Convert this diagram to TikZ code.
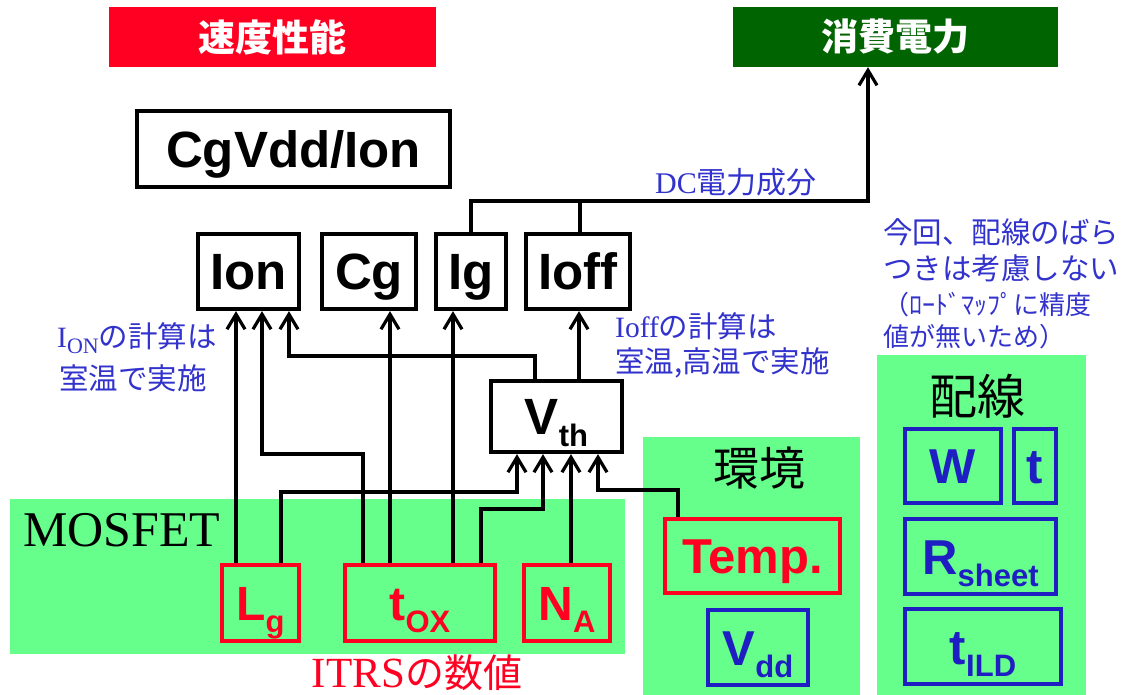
\documentclass[tikz,border=0pt]{standalone}
\usepackage{fontspec}
\setmainfont{Liberation Serif}
\setsansfont{Liberation Sans}
\newfontfamily\cjk{Noto Sans CJK JP}
\usetikzlibrary{arrows.meta}
\newcommand\fsz[1]{\fontsize{#1}{#1}\selectfont}
\newcommand\dsub[1]{\raisebox{-12pt}{\fsz{31}#1}}
\definecolor{lgreen}{RGB}{102,255,140}
\definecolor{myred}{RGB}{255,0,35}
\definecolor{dgreen}{RGB}{0,100,0}
\definecolor{tblue}{RGB}{50,50,205}
\definecolor{bblue}{RGB}{30,30,195}
\begin{document}
\begin{tikzpicture}[x=1pt,y=-1pt,
  conn/.style={line width=3.2pt, draw=black},
  arr/.style={conn, -{Straight Barb[length=15pt,width=18pt]}},
  blk/.style={draw=black, line width=3.8pt, fill=white, inner sep=0pt,
    font=\sffamily\bfseries\fsz{51}, text height=36.5pt, text depth=0pt},
  redb/.style={draw=myred, line width=4pt, inner sep=0pt, text=myred,
    font=\sffamily\bfseries\fsz{48}, text height=34.4pt, text depth=0pt},
  tempb/.style={draw=myred, line width=4pt, inner sep=0pt, text=myred,
    font=\sffamily\bfseries\fsz{49}, text height=35pt, text depth=0pt},
  blub/.style={draw=bblue, line width=4pt, inner sep=0pt, text=bblue,
    font=\sffamily\bfseries\fsz{49}, text height=35pt, text depth=0pt},
  zone/.style={fill=lgreen, draw=none},
  toplbl/.style={inner sep=0pt, text=white, font=\cjk\bfseries\fsz{37},
    minimum width=327pt, minimum height=60pt},
  blutxt/.style={text=tblue, inner sep=0pt, anchor=west, font=\cjk\fsz{29.5}},
]
\useasboundingbox (0,0) rectangle (1122,695);
\fill[white] (0,0) rectangle (1122,695);

% zones
\fill[zone] (10,499) rectangle (625,654);
\fill[zone] (643,437) rectangle (860,695);
\fill[zone] (877,355) rectangle (1086,695);

% top labels
\node[toplbl, fill=myred] (spd) at (272.5,37) {速度性能};
\node[toplbl, fill=dgreen, minimum width=325pt] (pw) at (895.5,37) {消費電力};

% black boxes
\node[blk, minimum width=313.5pt, minimum height=76.5pt] (cgv) at (293.5,149) {CgVdd/Ion};
\node[blk, minimum width=101.5pt, minimum height=75.5pt] (ion) at (248.5,271.5) {Ion};
\node[blk, minimum width=94.5pt, minimum height=75.5pt] (cg) at (369,271.5) {Cg};
\node[blk, minimum width=70.5pt, minimum height=75.5pt] (ig) at (471,271.5) {Ig};
\node[blk, minimum width=104.5pt, minimum height=75.5pt] (ioff) at (578,271.5) {Ioff};
\node[blk, minimum width=131.5pt, minimum height=71.5pt] (vth) at (556.5,416.5) {V\dsub{th}};

% red boxes
\node[redb, minimum width=77pt, minimum height=76pt] (lg) at (260.5,603) {L\dsub{g}};
\node[redb, minimum width=150pt, minimum height=76pt] (tox) at (420,603) {t\dsub{OX}};
\node[redb, minimum width=86pt, minimum height=76pt] (na) at (567,603) {N\dsub{A}};
\node[tempb, minimum width=175pt, minimum height=74pt] (temp) at (752.5,556) {Temp.};

% blue boxes
\node[blub, minimum width=100pt, minimum height=75pt] (vdd) at (758,647.5) {V\dsub{dd}};
\node[blub, minimum width=96pt, minimum height=74pt] (w) at (953,466) {W};
\node[blub, minimum width=42pt, minimum height=74pt] (t) at (1035,466) {t};
\node[blub, minimum width=151pt, minimum height=75pt] (rsh) at (980.5,556.5) {R\dsub{sheet}};
\node[blub, minimum width=156pt, minimum height=75pt] (tild) at (983,646.5) {t\dsub{ILD}};

% connectors
\draw[arr] (lg.north -| 236,0) -- (ion.south -| 236,0);
\draw[arr] (lg.north -| 281,0) -- (281,492) -| (vth.south -| 517,0);
\draw[arr] (tox.north -| 363,0) -- (363,454) -| (ion.south -| 262,0);
\draw[arr] (tox.north -| 390,0) -- (cg.south -| 390,0);
\draw[arr] (tox.north -| 453,0) -- (ig.south -| 453,0);
\draw[arr] (tox.north -| 481,0) -- (481,509) -| (vth.south -| 543,0);
\draw[arr] (na.north -| 571,0) -- (vth.south -| 571,0);
\draw[arr] (temp.north -| 678,0) -- (678,490) -| (vth.south -| 598,0);
\draw[arr] (vth.north -| 535,0) -- (535,356) -| (ion.south -| 289,0);
\draw[arr] (vth.north -| 579,0) -- (ioff.south -| 579,0);
\draw[conn] (ioff.north -| 580,0) -- (580,201);
\draw[arr] (ig.north) -- (471,201) -| (pw.south -| 868,0);

% texts
\node[blutxt, font=\cjk\fsz{30}] (dc) at (655,182) {{\rmfamily DC}電力成分};
\node[blutxt] (ona) at (57,338) {{\rmfamily I\raisebox{-6pt}{\fsz{22}ON}}の計算は};
\node[blutxt] (onb) at (59,378) {室温で実施};
\node[blutxt] (offa) at (615,326) {{\rmfamily Ioff}の計算は};
\node[blutxt] (offb) at (615,363) {室温,高温で実施};
\node[blutxt] (n1) at (883,232) {今回、配線のばら};
\node[blutxt] (n2) at (883,268) {つきは考慮しない};
\node[blutxt, font=\cjk\fsz{26}] (n3) at (883,305) {（ﾛｰﾄﾞﾏｯﾌﾟに精度};
\node[blutxt, font=\cjk\fsz{26}] (n4) at (883,337) {値が無いため）};

\node[anchor=west, inner sep=0pt, font=\rmfamily\fsz{50}] (mos) at (23,530) {MOSFET};
\node[inner sep=0pt, text=myred, font=\rmfamily\fsz{43}] (itrs) at (417,673) {ITRS{\cjk\fsz{39}の数値}};
\node[inner sep=0pt, font=\cjk\fsz{46}] (env) at (759,468) {環境};
\node[inner sep=0pt, font=\cjk\fsz{48}] (hs) at (977,396) {配線};
\end{tikzpicture}
\end{document}
